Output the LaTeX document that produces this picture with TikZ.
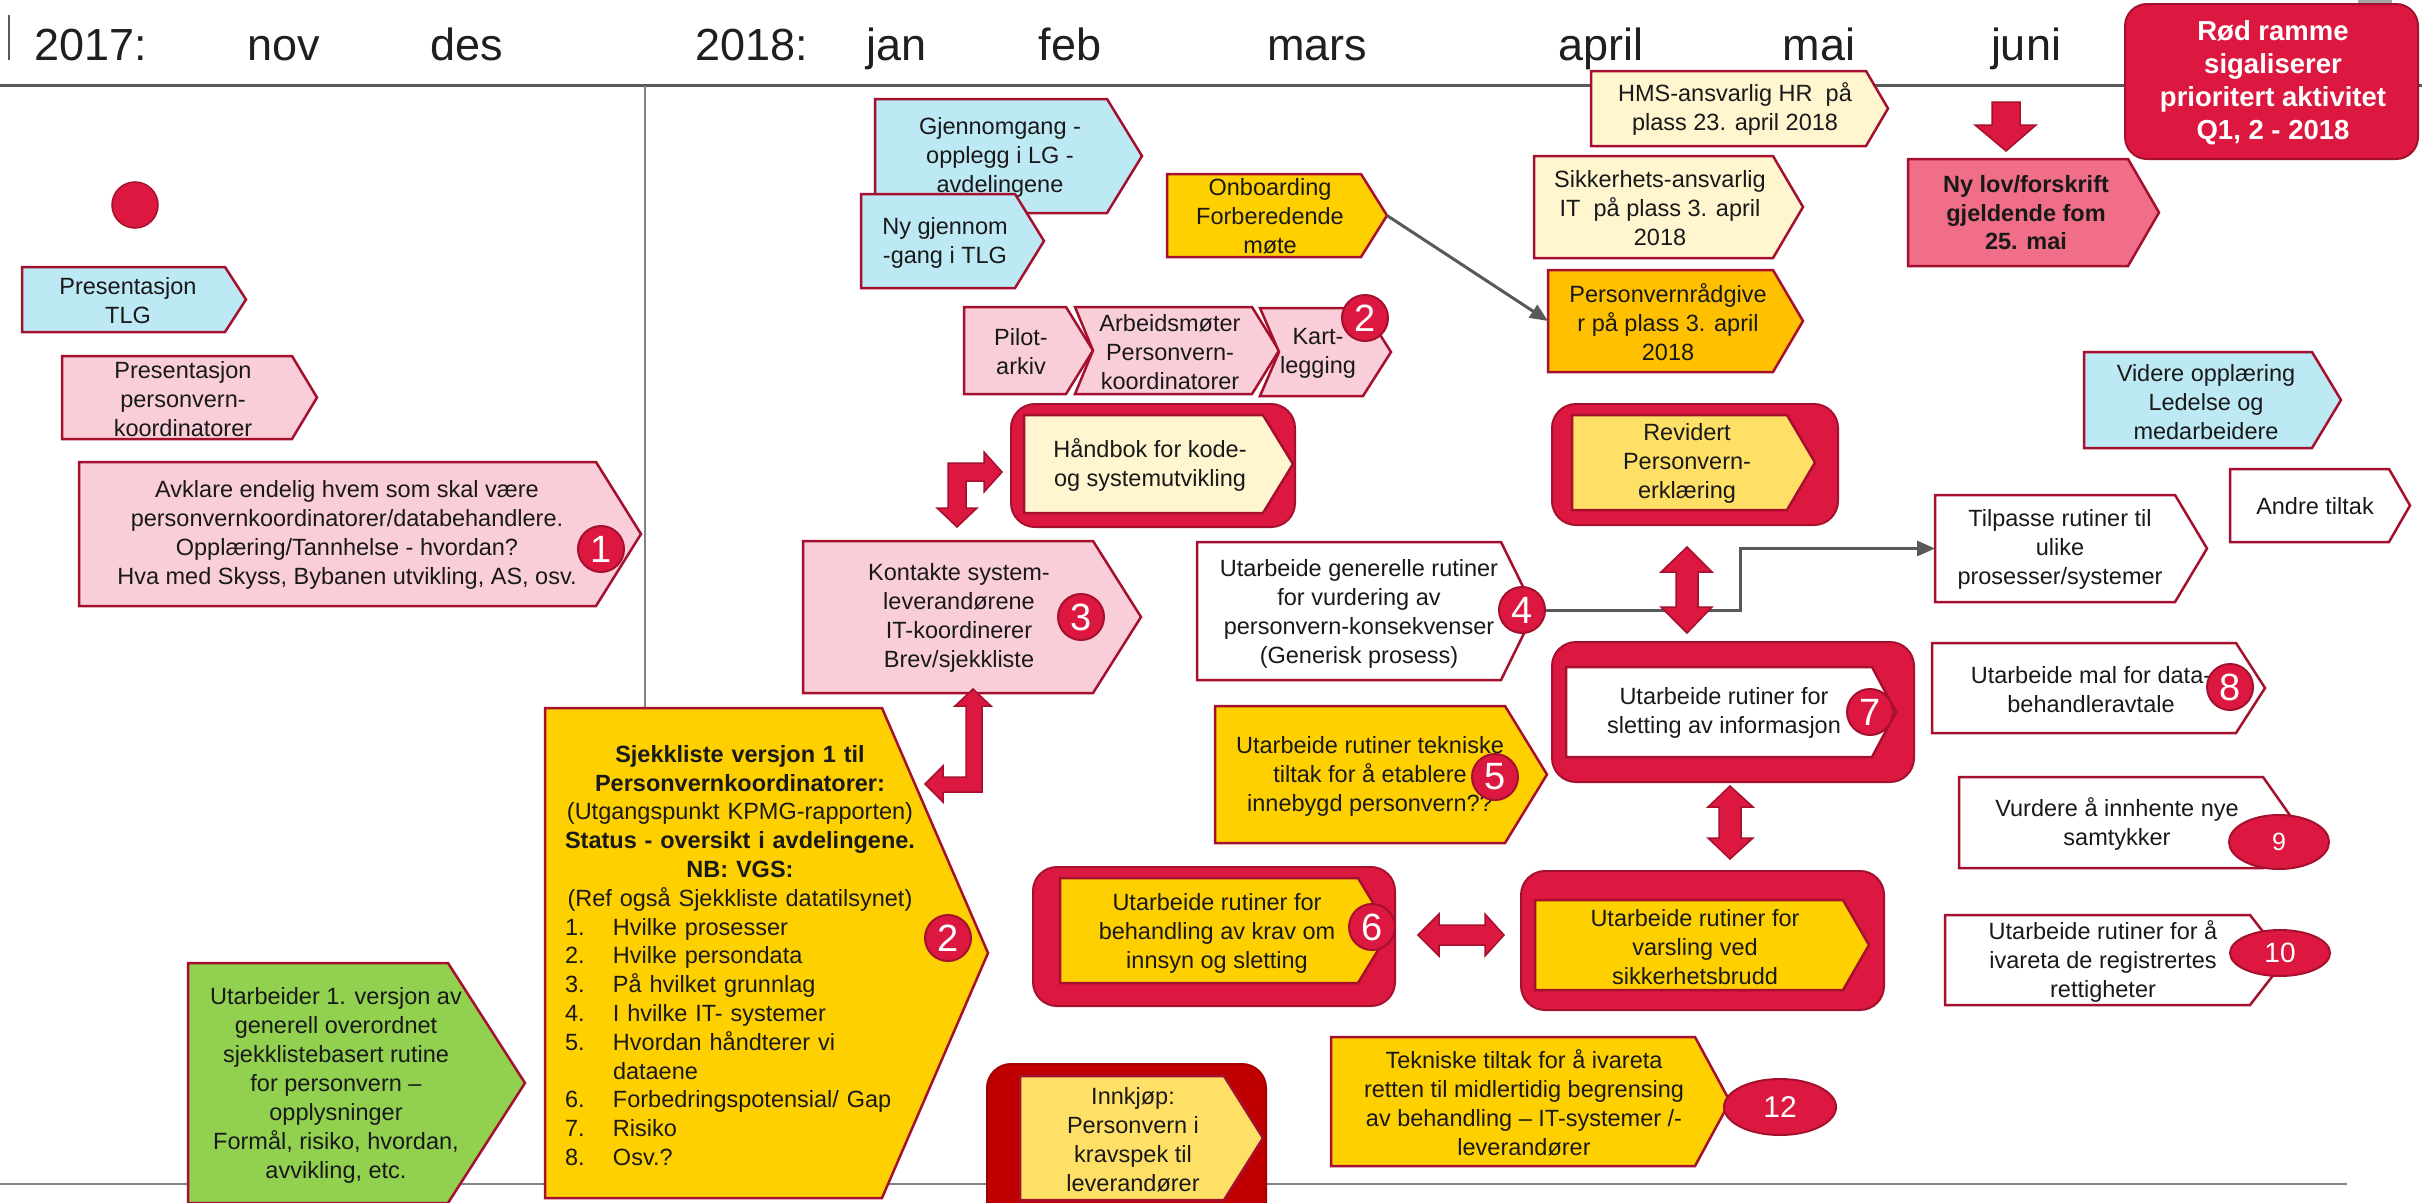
\documentclass[tikz,border=0pt]{standalone}
\usepackage{fontspec}
\setmainfont{Liberation Sans}
\usetikzlibrary{arrows.meta,shapes.geometric}
\definecolor{crim}{RGB}{220,24,64}
\definecolor{dkred}{RGB}{165,16,46}
\definecolor{ltblue}{RGB}{189,233,245}
\definecolor{pinkf}{RGB}{249,206,216}
\definecolor{yel}{RGB}{255,208,0}
\definecolor{cream}{RGB}{255,245,206}
\definecolor{orng}{RGB}{255,192,0}
\definecolor{paleyel}{RGB}{255,224,102}
\definecolor{rose}{RGB}{240,110,136}
\definecolor{grn}{RGB}{146,208,80}
\definecolor{innred}{RGB}{192,0,0}
\definecolor{lgray}{RGB}{89,89,89}
\definecolor{mgray}{RGB}{130,130,130}
\newcommand\pentshape[7]{%
  \draw[#2] (#3,#4) -- (#5,#4) -- (#6,{(#4+#7)/2}) -- (#5,#7) -- (#3,#7) -- cycle;
  \coordinate (#1-tip) at (#6,{(#4+#7)/2});
  \coordinate (#1-w) at (#3,{(#4+#7)/2});}
\newcommand\chevshape[8]{%
  \draw[#2] (#3,#4) -- (#5,#4) -- (#6,{(#4+#7)/2}) -- (#5,#7) -- (#3,#7) -- (#8,{(#4+#7)/2}) -- cycle;}
\newcommand\li[1]{\hspace*{15pt}\makebox[48pt][l]{#1}}
\begin{document}
\begin{tikzpicture}[x=1pt,y=-1pt,
  every node/.style={inner sep=0pt},
  txt/.style={align=center,text=black!90,font=\fontsize{23.5}{29}\selectfont},
  btxt/.style={align=center,text=black!90,font=\bfseries\fontsize{23.5}{28.5}\selectfont},
  hdr/.style={text=black!88,font=\fontsize{45}{45}\selectfont},
  bx/.style={draw=dkred,line width=2.5pt},
  frm/.style={fill=crim,draw=dkred,line width=2pt,rounded corners=24pt},
  barrow/.style={fill=crim,draw=dkred,line width=1.5pt},
  badge/.style={circle,fill=crim,draw=dkred,line width=2pt,minimum size=46pt,text=white,font=\fontsize{38}{38}\selectfont},
  oval/.style={ellipse,fill=crim,draw=dkred,line width=2pt,text=white},
  conn/.style={draw=lgray,line width=3pt,-{Triangle[length=18pt,width=15pt]}},
]
\useasboundingbox (0,0) rectangle (2422,1202);
\fill[white] (0,0) rectangle (2422,1202);

% ---------- header and grid lines
\draw[line width=2pt,draw=lgray] (9,15) -- (9,60);
\node[hdr,anchor=base west] (y2017) at (34,60) {2017:};
\node[hdr,anchor=base] (mnov) at (284,60) {nov};
\node[hdr,anchor=base] (mdes) at (467,60) {des};
\node[hdr,anchor=base west] (y2018) at (695,60) {2018:};
\node[hdr,anchor=base] (mjan) at (897,60) {jan};
\node[hdr,anchor=base] (mfeb) at (1070,60) {feb};
\node[hdr,anchor=base] (mmar) at (1317,60) {mars};
\node[hdr,anchor=base] (mapr) at (1601,60) {april};
\node[hdr,anchor=base] (mmai) at (1819,60) {mai};
\node[hdr,anchor=base] (mjun) at (2026,60) {juni};
\draw[draw=lgray,line width=3pt] (0,85) -- (2422,85);
\draw[draw=mgray,line width=1.5pt] (645,86) -- (645,710);
\draw[draw=mgray,line width=2pt] (0,1184) -- (2347,1184);
\fill[gray!70] (2358,0) rectangle (2392,7);

% ---------- legend box
\draw[frm,rounded corners=22pt] (2125,4) rectangle (2418,159);
\node[align=center,text=white,font=\bfseries\fontsize{27.5}{33}\selectfont] (legend) at (2273,83) {Rød ramme\\sigaliserer\\prioritert aktivitet\\Q1, 2 - 2018};

% ---------- left column
\fill[crim,draw=dkred,line width=1.5pt] (135,205) circle (23);
\pentshape{presTLG}{bx,fill=ltblue}{22}{267}{225}{246}{332}
\node[txt] (tPresTLG) at (128,301) {Presentasjon\\TLG};
\pentshape{presPK}{bx,fill=pinkf}{62}{356}{292}{317}{439}
\node[txt] (tPresPK) at (183,399) {Presentasjon\\personvern-\\koordinatorer};
\pentshape{avkl}{bx,fill=pinkf}{79}{462}{596}{641}{606}
\node[txt] (tAvkl) at (347,535) {Avklare endelig hvem som skal være\\personvernkoordinatorer/databehandlere.\\Opplæring/Tannhelse - hvordan?\\Hva med Skyss, Bybanen utvikling, AS, osv.};
\node[badge] (b1) at (601,549) {1};

\pentshape{grn}{bx,fill=grn}{188}{963}{448}{525}{1203}
\node[txt] (tGrn) at (336,1085) {Utarbeider 1. versjon av\\generell overordnet\\sjekklistebasert rutine\\for personvern –\\opplysninger\\Formål, risiko, hvordan,\\avvikling, etc.};

% ---------- Sjekkliste
\pentshape{sjekk}{bx,fill=yel}{545}{708}{882}{988}{1198}
\node[anchor=north,text width=380pt,text=black!90,font=\fontsize{23.5}{28.8}\selectfont] (tSjekk) at (740,745) {\setlength\parindent{0pt}\centering
\textbf{Sjekkliste versjon 1 til}\\
\textbf{Personvernkoordinatorer:}\\
(Utgangspunkt KPMG-rapporten)\\
\textbf{Status - oversikt i avdelingene.}\\
\textbf{NB: VGS:}\\
(Ref også Sjekkliste datatilsynet)\par
\raggedright
\li{1.}Hvilke prosesser\\
\li{2.}Hvilke persondata\\
\li{3.}På hvilket grunnlag\\
\li{4.}I hvilke IT- systemer\\
\li{5.}Hvordan håndterer vi\\
\li{}dataene\\
\li{6.}Forbedringspotensial/ Gap\\
\li{7.}Risiko\\
\li{8.}Osv.?\par};
\node[badge] (b2s) at (948,938) {2};

% ---------- january / february cluster
\pentshape{gjenn}{bx,fill=ltblue}{875}{99}{1107}{1142}{213}
\node[txt] (tGjenn) at (1000,157) {Gjennomgang -\\opplegg i LG -\\avdelingene};
\pentshape{nyg}{bx,fill=ltblue}{861}{194}{1015}{1044}{288}
\node[txt] (tNyg) at (945,243) {Ny gjennom\\-gang i TLG};

\pentshape{onb}{bx,fill=yel}{1167}{174}{1361}{1387}{257}
\node[txt] (tOnb) at (1270,216) {Onboarding\\Forberedende\\møte};

\pentshape{pilot}{bx,fill=pinkf}{964}{307}{1066}{1093}{394}
\node[txt] (tPilot) at (1021,352) {Pilot-\\arkiv};
\chevshape{arb}{bx,fill=pinkf}{1075}{307}{1252}{1279}{394}{1093}
\node[txt] (tArb) at (1170,352) {Arbeidsmøter\\Personvern-\\koordinatorer};
\chevshape{kart}{bx,fill=pinkf}{1260}{308}{1363}{1391}{396}{1279}
\node[txt] (tKart) at (1318,353) {Kart-\\legging};
\node[badge] (b2k) at (1365,318) {2};

\draw[frm] (1011,404) rectangle (1295,527);
\pentshape{hand}{bx,fill=cream}{1024}{415}{1263}{1293}{513}
\node[txt] (tHand) at (1150,465) {Håndbok for kode-\\og systemutvikling};

\pentshape{kont}{bx,fill=pinkf}{803}{541}{1093}{1141}{693}
\node[txt] (tKont) at (959,618) {Kontakte system-\\leverandørene\\IT-koordinerer\\Brev/sjekkliste};
\node[badge] (b3) at (1081,617) {3};

% bent arrow Håndbok <-> Kontakte
\draw[barrow] (957,527) -- (977,508) -- (966,508) -- (966,481) -- (984,481) -- (984,492) -- (1002,472) -- (984,452) -- (984,463) -- (948,463) -- (948,508) -- (937,508) -- cycle;
% bent arrow Kontakte <-> Sjekkliste
\draw[barrow] (973,689) -- (991,706) -- (982,706) -- (982,792) -- (943,792) -- (943,802) -- (925,784) -- (943,766) -- (943,777) -- (966,777) -- (966,706) -- (955,706) -- cycle;

% ---------- middle
\pentshape{gen}{bx,fill=white}{1197}{542}{1501}{1535}{680}
\node[txt] (tGen) at (1359,614) {Utarbeide generelle rutiner\\for vurdering av\\personvern-konsekvenser\\(Generisk prosess)};

\pentshape{tek5}{bx,fill=yel}{1215}{706}{1505}{1547}{843}
\node[txt] (tTek5) at (1370,776) {Utarbeide rutiner tekniske\\tiltak for å etablere\\innebygd personvern??};
\node[badge] (b5) at (1495,777) {5};

\draw[frm] (1033,867) rectangle (1395,1006);
\pentshape{beh}{bx,fill=yel}{1060}{878}{1358}{1390}{983}
\node[txt] (tBeh) at (1217,933) {Utarbeide rutiner for\\behandling av krav om\\innsyn og sletting};
\node[badge] (b6) at (1372,927) {6};

\draw[fill=innred,draw=innred!85!black,line width=2pt,rounded corners=24pt] (987,1064) rectangle (1266,1230);
\pentshape{innk}{bx,fill=paleyel}{1020}{1076}{1224}{1263}{1200}
\node[txt] (tInnk) at (1133,1140) {Innkjøp:\\Personvern i\\kravspek til\\leverandører};

\pentshape{tek12}{bx,fill=yel}{1331}{1037}{1695}{1730}{1166}
\node[txt] (tTek12) at (1524,1103) {Tekniske tiltak for å ivareta\\retten til midlertidig begrensing\\av behandling – IT-systemer /-\\leverandører};
\node[oval,minimum width=112pt,minimum height=56pt,font=\fontsize{30}{30}\selectfont] (e12) at (1780,1107) {12};

% ---------- april column
\pentshape{hms}{bx,fill=cream}{1591}{71}{1866}{1888}{146}
\node[txt] (tHms) at (1735,109) {HMS-ansvarlig HR\ \ på\\plass 23. april 2018};
\pentshape{sikk}{bx,fill=cream}{1534}{156}{1773}{1803}{258}
\node[txt] (tSikk) at (1660,208) {Sikkerhets-ansvarlig\\IT\ \ på plass 3. april\\2018};
\pentshape{prad}{bx,fill=orng}{1548}{270}{1773}{1803}{372}
\node[txt] (tPrad) at (1668,322) {Personvernrådgive\\r på plass 3. april\\2018};
\draw[conn] (onb-tip) -- (prad-w);

\draw[frm] (1552,404) rectangle (1838,525);
\pentshape{rev}{bx,fill=paleyel}{1572}{415}{1787}{1815}{510}
\node[txt] (tRev) at (1687,463) {Revidert\\Personvern-\\erklæring};

\draw[frm] (1552,642) rectangle (1914,782);
\pentshape{slet}{bx,fill=white}{1566}{667}{1872}{1896}{757}
\node[txt] (tSlet) at (1724,713) {Utarbeide rutiner for\\sletting av informasjon};
\node[badge] (b7) at (1870,712) {7};

\draw[frm] (1521,871) rectangle (1884,1010);
\pentshape{vars}{bx,fill=yel}{1535}{900}{1843}{1869}{990}
\node[txt] (tVars) at (1695,947) {Utarbeide rutiner for\\varsling ved\\sikkerhetsbrudd};

% connector 4 -> Tilpasse
\pentshape{tilp}{bx,fill=white}{1935}{495}{2175}{2207}{602}
\node[txt] (tTilp) at (2060,549) {Tilpasse rutiner til\\ulike\\prosesser/systemer};
\coordinate (bend4) at (1740,610);
\node[badge] (b4) at (1522,610) {4};
\draw[conn] (b4.east) -- (bend4) |- (tilp-w);

% block double arrows
\draw[barrow] (1687,547) -- (1712,572) -- (1698,572) -- (1698,607) -- (1712,607) -- (1687,633) -- (1661,607) -- (1676,607) -- (1676,572) -- (1661,572) -- cycle;
\draw[barrow] (1730,786) -- (1753,807) -- (1741,807) -- (1741,838) -- (1753,838) -- (1730,859) -- (1708,838) -- (1719,838) -- (1719,807) -- (1708,807) -- cycle;
\draw[barrow] (1418,935) -- (1439,914) -- (1439,925) -- (1485,925) -- (1485,914) -- (1504,935) -- (1485,956) -- (1485,945) -- (1439,945) -- (1439,956) -- cycle;

% ---------- right columns
\draw[barrow] (1992,102) -- (2020,102) -- (2020,125) -- (2036,125) -- (2006,151) -- (1975,125) -- (1992,125) -- cycle;
\pentshape{nylov}{bx,fill=rose}{1908}{159}{2128}{2159}{266}
\node[btxt] (tNylov) at (2026,213) {Ny lov/forskrift\\gjeldende fom\\25. mai};

\pentshape{vid}{bx,fill=ltblue}{2084}{352}{2312}{2341}{448}
\node[txt] (tVid) at (2206,402) {Videre opplæring\\Ledelse og\\medarbeidere};

\pentshape{andre}{bx,fill=white}{2230}{469}{2389}{2410}{542}
\node[txt] (tAndre) at (2315,506) {Andre tiltak};

\pentshape{mal}{bx,fill=white}{1932}{643}{2236}{2265}{733}
\node[txt] (tMal) at (2091,690) {Utarbeide mal for data-\\behandleravtale};
\node[badge] (b8) at (2230,687) {8};

\pentshape{vurd}{bx,fill=white}{1959}{777}{2263}{2295}{868}
\node[txt] (tVurd) at (2117,824) {Vurdere å innhente nye\\samtykker};
\node[oval,minimum width=100pt,minimum height=54pt,font=\fontsize{25}{25}\selectfont] (e9) at (2279,842) {9};

\pentshape{ivar}{bx,fill=white}{1945}{915}{2250}{2285}{1005}
\node[txt] (tIvar) at (2103,961) {Utarbeide rutiner for å\\ivareta de registrertes\\rettigheter};
\node[oval,minimum width=100pt,minimum height=46pt,font=\fontsize{28}{28}\selectfont] (e10) at (2280,953) {10};
\end{tikzpicture}
\end{document}
